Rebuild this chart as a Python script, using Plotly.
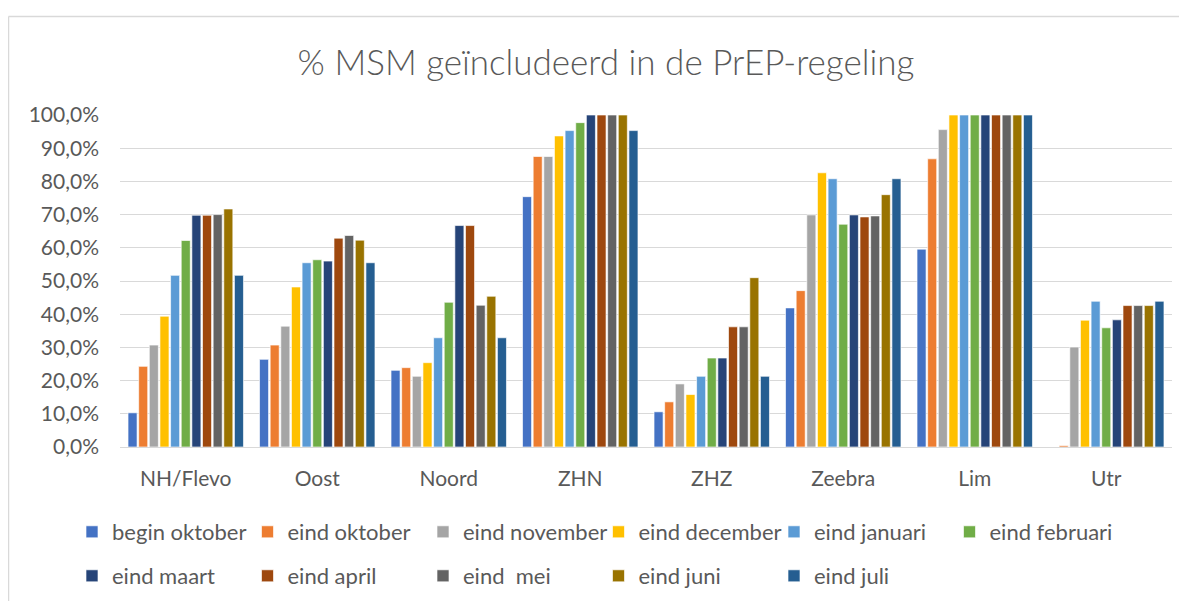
import plotly.graph_objects as go

categories = ["NH/Flevo", "Oost", "Noord", "ZHN", "ZHZ", "Zeebra", "Lim", "Utr"]

series_names = ["begin oktober", "eind oktober", "eind november", "eind december",
                "eind januari", "eind februari", "eind maart", "eind april",
                "eind\u00a0 mei", "eind juni", "eind juli"]

begin_oktober = [10.3, 26.4, 23.1, 75.4, 10.6, 41.9, 59.6, None]
eind_oktober = [24.3, 30.7, 23.9, 87.5, 13.6, 47.1, 86.8, 0.4]
eind_november = [30.7, 36.4, 21.3, 87.5, 19.0, 69.9, 95.6, 30.1]
eind_december = [39.4, 48.2, 25.4, 93.7, 15.8, 82.6, 100.0, 38.2]
eind_januari = [51.7, 55.5, 32.9, 95.3, 21.3, 80.8, 100.0, 43.9]
eind_februari = [62.2, 56.4, 43.6, 97.7, 26.8, 67.1, 100.0, 35.9]
eind_maart = [69.8, 56.0, 66.7, 100.0, 26.8, 69.9, 100.0, 38.3]
eind_april = [69.8, 62.9, 66.7, 100.0, 36.2, 69.3, 100.0, 42.6]
eind_mei = [70.0, 63.7, 42.7, 100.0, 36.2, 69.6, 100.0, 42.6]
eind_juni = [71.7, 62.3, 45.4, 100.0, 51.0, 76.0, 100.0, 42.6]
eind_juli = [51.7, 55.5, 32.9, 95.3, 21.3, 80.8, 100.0, 43.9]

all_values = [begin_oktober, eind_oktober, eind_november, eind_december, eind_januari,
              eind_februari, eind_maart, eind_april, eind_mei, eind_juni, eind_juli]

colors = ["#4472C4", "#ED7D31", "#A5A5A5", "#FFC000", "#5B9BD5", "#70AD47",
          "#264478", "#9E480E", "#636363", "#997300", "#255E91"]

y_tick_values = [0, 10, 20, 30, 40, 50, 60, 70, 80, 90, 100]
y_tick_labels = ["0,0%", "10,0%", "20,0%", "30,0%", "40,0%", "50,0%",
                 "60,0%", "70,0%", "80,0%", "90,0%", "100,0%"]

FONT = "Lato"
TXT = "#595959"

fig = go.Figure()
for i, (name, vals, col) in enumerate(zip(series_names, all_values, colors)):
    fig.add_trace(go.Bar(
        x=categories, y=vals, name=name,
        marker=dict(color=col, line=dict(color="rgba(255,255,255,0.8)", width=0.8)),
        legend="legend" if i < 6 else "legend2",
    ))

leg_common = dict(orientation="h", font=dict(family=FONT, size=22, color=TXT),
                  bgcolor="rgba(0,0,0,0)", entrywidth=130.5, entrywidthmode="pixels",
                  itemwidth=30, traceorder="normal", yanchor="middle", xanchor="left",
                  xref="container", yref="container")

# page body has an 8px offset; figure coordinates are shifted accordingly
fig.update_layout(
    width=1187, height=601,
    margin=dict(l=112, r=23, t=107, b=162),
    paper_bgcolor="white", plot_bgcolor="white",
    barmode="group", bargap=0.11, bargroupgap=0.15,
    title=dict(text="% MSM geïncludeerd in de PrEP-regeling",
               font=dict(family=FONT, size=35, color=TXT, weight=300),
               x=598 / 1187, xanchor="center", xref="container",
               y=1 - 55 / 601, yanchor="middle", yref="container"),
    legend=dict(**leg_common, x=64 / 1187, y=1 - 524 / 601),
    legend2=dict(**leg_common, x=64 / 1187, y=1 - 568 / 601),
    xaxis=dict(showgrid=False, showline=True, linecolor="#D9D9D9", linewidth=1,
               ticks="", tickfont=dict(family=FONT, size=21, color=TXT),
               ticklabelstandoff=13),
    yaxis=dict(range=[0, 100], tickmode="array", tickvals=y_tick_values, ticktext=y_tick_labels,
               showgrid=True, gridcolor="#D9D9D9", gridwidth=1, zeroline=False,
               showline=False, ticks="", tickfont=dict(family=FONT, size=21, color=TXT),
               ticklabelstandoff=20),
    shapes=[
        dict(type="line", xref="paper", yref="paper", x0=-0.106, x1=1.2, y0=1.297, y1=1.297,
             line=dict(color="#D9D9D9", width=1.5)),
        dict(type="line", xref="paper", yref="paper", x0=-0.106, x1=-0.106, y0=1.297, y1=-0.6,
             line=dict(color="#D9D9D9", width=1.5)),
    ],
)

fig.write_html("out.html")
